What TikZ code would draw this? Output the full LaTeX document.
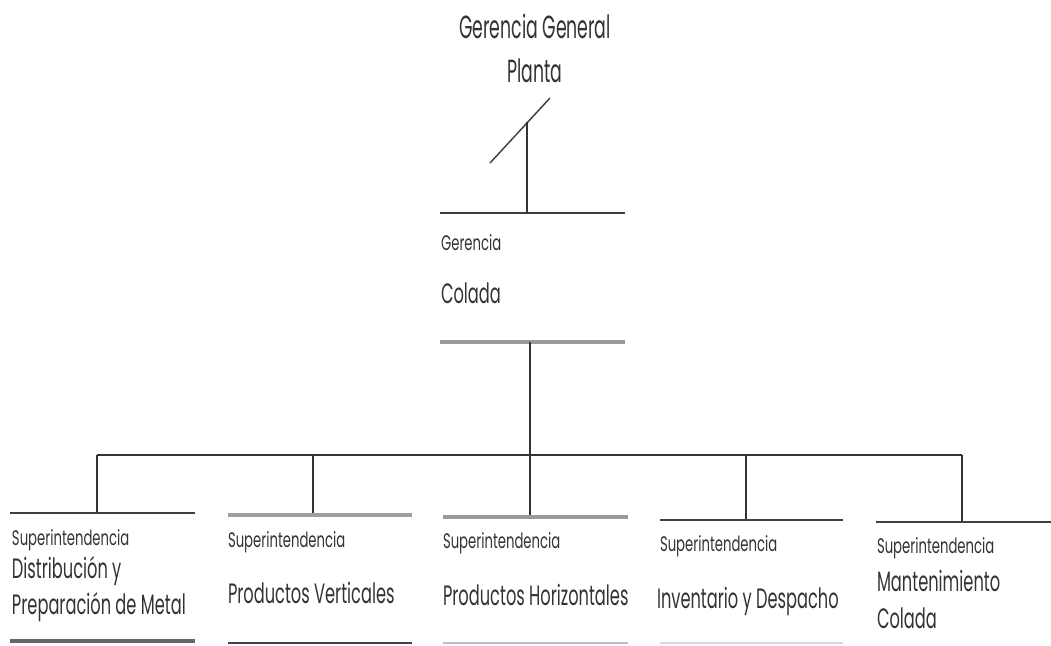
\documentclass[tikz,border=0pt]{standalone}
\usepackage{fontspec}
\setmainfont{Poppins}
\newfontfamily\topfont{Poppins}[FakeStretch=0.54]
\newfontfamily\labfont{Poppins}[FakeStretch=0.58]
\newfontfamily\supfont{Poppins}[FakeStretch=0.63]
\usetikzlibrary{positioning}

\begin{document}
\begin{tikzpicture}[
  x=1pt, y=-1pt,
  every node/.style={inner sep=0pt, outer sep=0pt, text=black!80},
  title/.style={anchor=base, font=\topfont\fontsize{32}{34}\selectfont},
  small/.style={anchor=base west, font=\supfont\fontsize{21}{23}\selectfont},
  label/.style={anchor=base west, font=\labfont\fontsize{28}{30}\selectfont},
  bar/.style={line width=2.5pt, black!75},
  graybar/.style={line width=3.5pt, gray!80},
  lightbar/.style={line width=2pt, gray!30},
  link/.style={line width=1.2pt, black!80}
]
\useasboundingbox (0,0) rectangle (1051,645);

% Top
\node[title] (gg) at (535,38) {Gerencia General};
\node[title] (planta) at (535,82) {Planta};
\coordinate (slashA) at (490,163);
\coordinate (slashB) at (550,98);
\draw[line width=1.5pt, black!75, dash pattern=on 1.5pt off 0.3pt] (slashA) -- (slashB);
\coordinate (slashM) at (527,122);

% Gerencia Colada
\coordinate (gcL) at (440,213);
\coordinate (gcR) at (625,213);
\coordinate (gcTop) at (527,213);
\draw[bar] (gcL) -- (gcR);
\node[small] (gerencia) at (441,250) {Gerencia};
\node[label] (colada) at (441,303) {Colada};
\coordinate (gcBL) at (440,342);
\coordinate (gcBR) at (625,342);
\coordinate (gcBot) at (530,342);
\draw[graybar] (gcBL) -- (gcBR);

% Bus
\coordinate (busL) at (97,455);
\coordinate (busR) at (962,455);
\coordinate (busM) at (530,455);
\draw[link] (slashM) -- (gcTop);
\draw[link] (gcBot) -- (busM);
\draw[link] (busL) -- (busR);

% Superintendencias
\coordinate (s1) at (97,513);
\coordinate (s2) at (313,515);
\coordinate (s3) at (530,517);
\coordinate (s4) at (746,520);
\coordinate (s5) at (962,522);
\foreach \s/\x in {1/97, 2/313, 3/530, 4/746, 5/962}
  \draw[link] (\x,455) -- (s\s);

% Box 1
\draw[bar] (10,513) -- (195,513);
\draw[graybar, black!60] (10,641) -- (195,641);
\node[small] (sup1) at (12,545) {Superintendencia};
\node[label] (dist) at (12,578) {Distribución y};
\node[label] (prep) at (12,614) {Preparación de Metal};

% Box 2
\draw[graybar, gray!75] (228,515) -- (412,515);
\draw[bar] (228,643) -- (412,643);
\node[small] (sup2) at (228,547) {Superintendencia};
\node[label] (verticales) at (228,603) {Productos Verticales};

% Box 3
\draw[graybar] (443,517) -- (628,517);
\draw[lightbar, gray!50] (443,643) -- (628,643);
\node[small] (sup3) at (443,548) {Superintendencia};
\node[label] (horizontales) at (443,605) {Productos Horizontales};

% Box 4
\draw[bar] (660,520) -- (843,520);
\draw[lightbar] (660,643) -- (843,643);
\node[small] (sup4) at (660,551) {Superintendencia};
\node[label] (inventario) at (657,608) {Inventario y Despacho};

% Box 5
\draw[bar] (876,522) -- (1051,522);
\node[small] (sup5) at (877,553) {Superintendencia};
\node[label] (mant) at (877,591) {Mantenimiento};
\node[label] (colada5) at (877,628) {Colada};

\end{tikzpicture}
\end{document}
